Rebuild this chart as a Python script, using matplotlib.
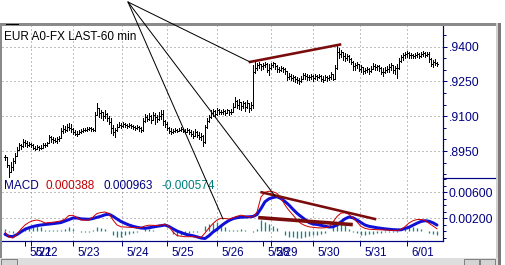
import numpy as np
import matplotlib
matplotlib.use("Agg")
import matplotlib.pyplot as plt
from matplotlib.patches import Rectangle, ConnectionPatch
from matplotlib.ticker import FixedLocator, MultipleLocator, FuncFormatter

plt.rcParams['font.family'] = ['Liberation Sans', 'DejaVu Sans']

# EUR A0-FX, 60 min bars, prices in pips (1e-4)
highs = [8933, 8926, 8890, 8903, 8920, 8942, 8967, 8985, 8980, 9002,
         8998, 8993, 8989, 8985, 8980, 8972, 8976, 8972, 8976, 8985,
         8985, 8989, 9019, 9015, 9011, 9006, 9011, 9015, 9049, 9062,
         9058, 9067, 9071, 9067, 9049, 9041, 9036, 9041, 9045, 9049,
         9049, 9054, 9054, 9054, 9049, 9118, 9157, 9135, 9127, 9118,
         9127, 9114, 9101, 9092, 9062, 9049, 9067, 9075, 9071, 9075,
         9071, 9067, 9071, 9067, 9062, 9058, 9062, 9058, 9054, 9092,
         9110, 9105, 9114, 9105, 9118, 9114, 9105, 9118, 9127, 9127,
         9084, 9075, 9054, 9049, 9045, 9049, 9045, 9049, 9054, 9049,
         9045, 9049, 9045, 9041, 9036, 9045, 9036, 9032, 9028, 9019,
         9062, 9092, 9105, 9127, 9131, 9127, 9135, 9131, 9127, 9131,
         9127, 9131, 9127, 9131, 9157, 9183, 9170, 9174, 9161, 9166,
         9161, 9170, 9157, 9161, 9321, 9334, 9329, 9334, 9325, 9329,
         9334, 9329, 9325, 9329, 9334, 9329, 9320, 9312, 9317, 9312,
         9308, 9296, 9286, 9282, 9278, 9274, 9269, 9265, 9274, 9286,
         9286, 9282, 9278, 9282, 9278, 9282, 9278, 9282, 9278, 9274,
         9278, 9274, 9278, 9291, 9282, 9321, 9407, 9394, 9386, 9377,
         9373, 9368, 9364, 9351, 9336, 9329, 9334, 9325, 9321, 9312,
         9308, 9312, 9308, 9317, 9329, 9325, 9321, 9321, 9312, 9308,
         9312, 9317, 9325, 9329, 9321, 9317, 9325, 9351, 9364, 9373,
         9377, 9381, 9377, 9373, 9368, 9373, 9377, 9373, 9377, 9381,
         9377, 9377, 9377, 9351, 9342, 9347, 9334]
lows = [8911, 8881, 8838, 8860, 8868, 8898, 8929, 8955, 8959, 8967,
        8972, 8967, 8972, 8967, 8959, 8955, 8959, 8955, 8959, 8967,
        8967, 8972, 8985, 8989, 8985, 8989, 8985, 8993, 9005, 9028,
        9032, 9036, 9041, 9032, 9023, 9019, 9015, 9023, 9028, 9032,
        9036, 9036, 9041, 9036, 9036, 9036, 9105, 9097, 9092, 9084,
        9092, 9080, 9067, 9028, 9019, 9011, 9038, 9054, 9049, 9054,
        9054, 9049, 9054, 9049, 9045, 9041, 9045, 9036, 9032, 9036,
        9075, 9080, 9084, 9071, 9084, 9067, 9075, 9084, 9088, 9062,
        9054, 9041, 9028, 9023, 9028, 9032, 9032, 9036, 9036, 9032,
        9028, 9032, 9023, 9015, 9006, 9019, 9011, 9002, 8998, 8972,
        8985, 9049, 9075, 9092, 9101, 9097, 9105, 9110, 9110, 9110,
        9105, 9114, 9105, 9110, 9118, 9138, 9135, 9131, 9127, 9135,
        9122, 9135, 9118, 9127, 9135, 9288, 9299, 9308, 9299, 9304,
        9312, 9291, 9278, 9304, 9312, 9304, 9291, 9291, 9295, 9291,
        9282, 9256, 9261, 9256, 9252, 9248, 9243, 9239, 9248, 9260,
        9261, 9256, 9256, 9261, 9252, 9261, 9256, 9265, 9252, 9248,
        9256, 9252, 9256, 9261, 9256, 9260, 9305, 9351, 9355, 9342,
        9338, 9342, 9334, 9325, 9299, 9299, 9308, 9295, 9291, 9282,
        9286, 9291, 9282, 9291, 9304, 9299, 9299, 9295, 9282, 9274,
        9286, 9291, 9291, 9299, 9286, 9282, 9265, 9305, 9334, 9342,
        9351, 9355, 9351, 9351, 9351, 9351, 9355, 9351, 9355, 9360,
        9355, 9360, 9334, 9316, 9312, 9321, 9316]
closes = [8925, 8890, 8860, 8880, 8905, 8930, 8955, 8975, 8970, 8990,
          8985, 8978, 8980, 8975, 8965, 8960, 8968, 8962, 8965, 8978,
          8975, 8985, 9010, 9000, 8998, 8995, 9002, 9008, 9035, 9045,
          9040, 9055, 9050, 9045, 9030, 9025, 9022, 9030, 9035, 9040,
          9042, 9045, 9048, 9044, 9040, 9105, 9135, 9115, 9118, 9100,
          9110, 9092, 9075, 9050, 9030, 9040, 9055, 9062, 9060, 9066,
          9062, 9058, 9064, 9060, 9052, 9050, 9055, 9048, 9040, 9080,
          9095, 9090, 9100, 9085, 9105, 9095, 9088, 9100, 9110, 9080,
          9065, 9050, 9035, 9032, 9038, 9040, 9036, 9042, 9045, 9038,
          9034, 9040, 9030, 9022, 9015, 9030, 9020, 9010, 9015, 8990,
          9055, 9080, 9095, 9115, 9122, 9110, 9125, 9120, 9118, 9122,
          9115, 9125, 9118, 9120, 9140, 9165, 9150, 9160, 9145, 9155,
          9140, 9158, 9135, 9150, 9290, 9310, 9320, 9325, 9315, 9320,
          9325, 9300, 9310, 9322, 9328, 9318, 9305, 9300, 9310, 9302,
          9295, 9270, 9275, 9265, 9270, 9260, 9255, 9250, 9262, 9278,
          9272, 9268, 9270, 9275, 9265, 9272, 9268, 9275, 9262, 9258,
          9270, 9265, 9268, 9280, 9262, 9310, 9375, 9370, 9378, 9360,
          9350, 9358, 9345, 9335, 9315, 9320, 9325, 9305, 9312, 9295,
          9298, 9302, 9295, 9305, 9318, 9312, 9315, 9308, 9292, 9290,
          9300, 9305, 9312, 9320, 9300, 9308, 9310, 9340, 9355, 9362,
          9368, 9372, 9365, 9362, 9358, 9365, 9368, 9360, 9370, 9372,
          9365, 9370, 9345, 9325, 9335, 9330, 9325]

# MACD (red) and signal (blue), read every second bar, in 1e-4
macd = [-1.1, -8.8, -10.3, -4.2, 3.5, 9.7, 13.8, 16.3, 17.4, 15.8,
        12.8, 13.4, 14.0, 14.9, 16.1, 18.9, 24.3, 24.6, 21.2, 17.4,
        17.1, 17.4, 22.0, 27.4, 28.9, 29.7, 27.4, 17.4, 9.7, 6.9,
        6.6, 6.2, 5.8, 5.4, 5.8, 8.2, 9.4, 9.2, 8.9, 9.7,
        10.8, 7.4, -1.1, -6.5, -7.5, -8.3, -8.3, -8.3, -8.8, -9.5,
        -2.6, 5.1, 12.0, 17.4, 20.0, 19.7, 18.9, 20.8, 23.2, 24.8,
        23.5, 22.3, 22.0, 29.7, 52.8, 60.0, 61.7, 60.8, 58.4, 51.2,
        40.4, 32.0, 25.1, 17.4, 12.0, 8.9, 6.9, 6.2, 5.5, 5.1,
        5.5, 6.6, 14.3, 22.8, 28.1, 28.6, 26.1, 20.5, 14.3, 7.4,
        4.6, 3.2, 2.8, 2.5, 2.3, 2.0, 1.7, 1.4, 1.2, 2.8,
        7.1, 12.8, 16.3, 18.1, 18.1, 16.9, 12.3, 8.2, 3.9]
signal = [-4.6, -7.7, -8.0, -4.9, -0.8, 3.1, 5.5, 7.4, 8.8, 9.7,
          10.5, 11.1, 11.8, 12.6, 13.5, 15.8, 18.0, 20.5, 20.5, 19.2,
          18.8, 18.5, 19.7, 21.5, 23.2, 25.4, 26.3, 23.1, 18.9, 15.1,
          12.3, 9.7, 7.7, 6.2, 5.1, 4.6, 5.5, 6.6, 7.7, 8.6,
          9.7, 7.4, 3.8, 0.5, -1.8, -4.2, -5.7, -6.8, -8.5, -10.3,
          -11.1, -6.8, -1.1, 3.1, 8.2, 12.8, 16.6, 19.4, 20.9, 21.7,
          22.0, 22.3, 22.8, 25.8, 35.1, 45.5, 50.0, 52.0, 53.2, 50.4,
          45.8, 40.4, 33.8, 27.7, 22.8, 18.1, 13.5, 11.2, 10.5, 9.2,
          7.8, 6.6, 6.9, 9.7, 14.6, 19.2, 22.0, 20.8, 17.4, 13.5,
          9.7, 7.7, 6.6, 5.5, 4.6, 3.8, 3.2, 2.6, 2.3, 2.3,
          4.3, 6.3, 9.4, 12.5, 15.1, 16.3, 15.5, 13.1, 9.6]
header = ['MACD', '0.000388', '0.000963', '-0.000574']

# day starts (bar index); Sunday sessions get no grid line
day_labels = ['5/21', '5/22', '5/23', '5/24', '5/25', '5/26',
              '5/28', '5/29', '5/30', '5/31', '6/01']
day_pos = [10, 13, 34, 58.5, 81, 106, 129, 133, 154, 177.5, 201]
sundays = ['5/21', '5/28']

price_ticks = [0.8950, 0.9100, 0.9250, 0.9400]
macd_ticks = [0.002, 0.006]

# hand drawn trend lines (bar index, value)
price_trend = ([122.5, 167.5], [0.9334, 0.9409])
macd_trend_hi = ([128.3, 185.0], [0.0060, 0.00189])
macd_trend_lo = ([127.5, 173.0], [0.00209, 0.00105])
# black pointer lines from one point above the chart to these spots
pointer_ends = [('p', 122.5, 0.9334), ('m', 109.0, 0.00189), ('m', 135.0, 0.00543)]

W, H = 506, 265
PX = 0.72  # points per pixel at dpi 100
navy = '#000080'
maroon = '#7a0c0c'
gridc = '#808080'

fig = plt.figure(figsize=(W / 100, H / 100), dpi=100)
fig.patch.set_facecolor('white')


def box(x0, y0, x1, y1):
    return [x0 / W, 1 - y1 / H, (x1 - x0) / W, (y1 - y0) / H]


ax_p = fig.add_axes(box(2, 25, 443, 178))
ax_m = fig.add_axes(box(2, 178, 443, 241))

# price bars
hi = np.array(highs) / 1e4
lo = np.array(lows) / 1e4
cl = np.array(closes) / 1e4
op = np.r_[cl[0], cl[:-1]]
idx = np.arange(len(cl))
bar_kw = dict(color='black', lw=PX, antialiased=False)
ax_p.vlines(idx, lo, hi, **bar_kw)
ax_p.hlines(op, idx - 0.5, idx, **bar_kw)
ax_p.hlines(cl, idx, idx + 0.5, **bar_kw)

# macd panel
mi = np.arange(len(macd)) * 2
mv = np.array(macd) / 1e4
sv = np.array(signal) / 1e4
ax_m.vlines(mi, 0, mv - sv, color='#138585', lw=1.3 * PX, zorder=2)
ax_m.plot(mi, sv, color='#1010d8', lw=3 * PX, solid_capstyle='round', zorder=3)
ax_m.plot(mi, mv, color='#d00000', lw=1 * PX, zorder=4)

# trend lines
ax_p.plot(*price_trend, color=maroon, lw=2.6 * PX, zorder=5)
ax_m.plot(*macd_trend_hi, color=maroon, lw=2.6 * PX, zorder=5)
ax_m.plot(*macd_trend_lo, color=maroon, lw=3.6 * PX, zorder=5)

# grids
grid_kw = dict(color=gridc, lw=PX, ls=(0, (1, 3)), zorder=1)
for v in price_ticks:
    ax_p.axhline(v, **grid_kw)
for v in macd_ticks:
    ax_m.axhline(v, **grid_kw)
for lab, pos in zip(day_labels, day_pos):
    if lab not in sundays:
        ax_p.axvline(pos, **grid_kw)
        ax_m.axvline(pos, **grid_kw)

for ax in (ax_p, ax_m):
    ax.set_xlim(-1.5, 219)
    for s in ('left', 'top', 'bottom'):
        ax.spines[s].set_visible(False)
    ax.spines['right'].set_color(navy)
    ax.spines['right'].set_linewidth(1.2 * PX)
    ax.yaxis.tick_right()
    ax.tick_params(axis='y', which='major', length=4 * PX, width=PX, color=navy,
                   pad=2 * PX, labelsize=8.7, labelcolor=navy)
    ax.tick_params(axis='y', which='minor', length=3 * PX, width=PX, color=navy)

ax_p.set_ylim(0.88338, 0.94933)
ax_p.yaxis.set_major_locator(FixedLocator(price_ticks))
ax_p.yaxis.set_minor_locator(MultipleLocator(0.005))
ax_p.yaxis.set_major_formatter(FuncFormatter(lambda v, p: ('%.4f' % v)[1:]))
ax_p.tick_params(axis='x', bottom=False, labelbottom=False)

ax_m.set_ylim(-0.00149, 0.0082)
ax_m.yaxis.set_major_locator(FixedLocator(macd_ticks))
ax_m.yaxis.set_minor_locator(MultipleLocator(0.001))
ax_m.yaxis.set_major_formatter(FuncFormatter(lambda v, p: '%.5f' % v))
ax_m.spines['bottom'].set_visible(True)
ax_m.spines['bottom'].set_color(navy)
ax_m.spines['bottom'].set_linewidth(1.2 * PX)
ax_m.set_xticks(day_pos)
ax_m.tick_params(axis='x', length=5 * PX, width=PX, color=navy, labelbottom=False)
for lab, pos in zip(day_labels, day_pos):
    ax_m.annotate(lab, xy=(pos, 0), xycoords=('data', 'axes fraction'),
                  xytext=(4 * PX, -5.5 * PX), textcoords='offset points',
                  ha='left', va='top', fontsize=8.3, color=navy,
                  annotation_clip=False)

# header texts
fig.text(4 / W, 1 - 40.5 / H, 'EUR A0-FX LAST-60 min', fontsize=8.5,
         color='black', va='baseline')
hx = [4, 45.5, 104, 162]
hc = [navy, '#c00000', navy, '#007f7f']
for s, x, c in zip(header, hx, hc):
    fig.text(x / W, 1 - 189 / H, s, fontsize=8.5, color=c, va='baseline')

# window frame, scroll bar and the pointer lines
ov = fig.add_axes([0, 0, 1, 1], zorder=10)
ov.set_xlim(0, W)
ov.set_ylim(H, 0)
ov.axis('off')
ov.patch.set_alpha(0)
ov.add_patch(Rectangle((0, 23), 501, 2.5, color='#8a8a8a', lw=0))
ov.add_patch(Rectangle((0, 23), 2, 236, color='#8a8a8a', lw=0))
ov.add_patch(Rectangle((496, 23), 2.5, 236, color='#d0d0d0', lw=0))
ov.add_patch(Rectangle((498.5, 23), 2.5, 242, color='#7a7a7a', lw=0))
ov.add_patch(Rectangle((0, 258), 498.5, 7, facecolor='#dedede', edgecolor='none',
                       hatch='....', lw=0))
ov.add_patch(Rectangle((1, 258.5), 16, 7, facecolor='#d4d4d4', edgecolor='#808080', lw=PX))
ov.add_patch(Rectangle((464, 258.5), 15, 7, facecolor='#d4d4d4', edgecolor='#808080', lw=PX))
ov.add_patch(Rectangle((480, 258.5), 15, 7, facecolor='#d4d4d4', edgecolor='#808080', lw=PX))
ov.plot([443, 495], [178, 178], color=navy, lw=1.2 * PX)
ov.plot([6, 18], [23.5, 23.5], color='black', lw=PX)

for which, bx, by in pointer_ends:
    axb = ax_p if which == 'p' else ax_m
    con = ConnectionPatch(xyA=(128, H - 2), coordsA='figure pixels',
                          xyB=(bx, by), coordsB=axb.transData,
                          color='black', lw=PX, zorder=12)
    fig.add_artist(con)

fig.savefig('out.png', dpi=100, facecolor='white')
